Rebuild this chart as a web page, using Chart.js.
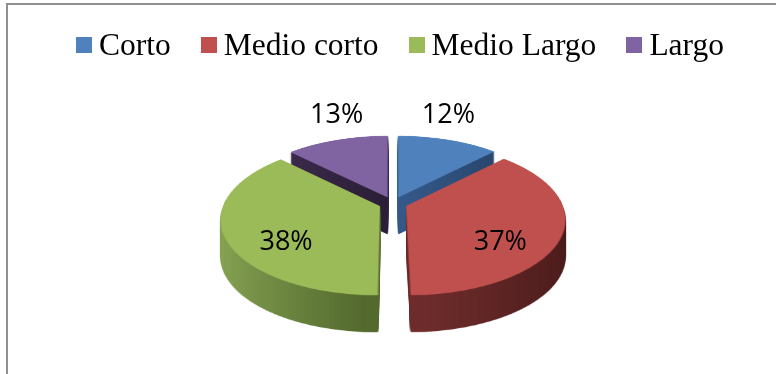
<!DOCTYPE html>
<html lang="es">
<head>
<meta charset="utf-8">
<title>Plazo</title>
<script src="https://cdn.jsdelivr.net/npm/chart.js@4.4.1/dist/chart.umd.min.js"></script>
<style>
  html, body { margin: 0; padding: 0; background: #fff; }
  #contenedor { position: relative; width: 776px; height: 374px; overflow: hidden; }
  #grafico { position: absolute; left: 0; top: 0; width: 776px; height: 374px; }
  #marco { position: absolute; left: 6px; top: 3px; width: 800px; height: 400px; border-top: 2px solid #8f8f8f; border-left: 2px solid #8f8f8f; }
  #leyenda { position: absolute; left: 76px; top: 29px; white-space: nowrap; font: 31.5px/31px "Liberation Serif", serif; color: #000; }
  #leyenda .item { display: inline-block; margin-right: 30px; }
  #leyenda .caja { display: inline-block; width: 16px; height: 16px; margin-right: 7px; vertical-align: 2px; }
</style>
</head>
<body>
<div id="contenedor">
  <div id="marco"></div>
  <div id="grafico"><canvas id="graficoPlazo"></canvas></div>
  <div id="leyenda"></div>
</div>
<script>
// Datos del gráfico
const categorias = ['Corto', 'Medio corto', 'Medio Largo', 'Largo'];
const valores = [12.4, 37.49, 37.51, 12.6];
const colores = ['#4f81bd', '#c0504d', '#9bbb59', '#8064a2'];
// color claro / oscuro del lateral de cada sector
const coloresLado = [
    ['#35598a', '#2a466b'],
    ['#6e2d2c', '#481a1a'],
    ['#8dab58', '#546a2f'],
    ['#3b2b4c', '#2d2039']
];

const RADIO = 152;
const DESPLAZAMIENTO = 56;   // separación de los sectores (opción offset)
const PROFUNDIDAD = 37;      // grosor en px
const K = 0.472;             // inclinación
const P = 951;               // distancia de la cámara, da la perspectiva
const MARGEN = 60;

// Leyenda en HTML
const leyenda = document.getElementById('leyenda');
categorias.forEach((cat, i) => {
    const item = document.createElement('span');
    item.className = 'item';
    const caja = document.createElement('span');
    caja.className = 'caja';
    caja.style.background = colores[i];
    item.appendChild(caja);
    item.appendChild(document.createTextNode(cat));
    leyenda.appendChild(item);
});

function mitad(arc) {
    return (arc.startAngle + arc.endAngle) / 2;
}

// ArcElement desplaza el sector offset/4 y agranda un poco el radio
function separacion() {
    return DESPLAZAMIENTO / 4;
}

function radioReal(arc) {
    const fix = 1 - Math.sin(Math.min(Math.PI, arc.circumference));
    return arc.outerRadius + separacion() * fix;
}

function extremosX(arc) {
    const shift = Math.cos(mitad(arc)) * separacion();
    let min = arc.x, max = arc.x;
    for (let t = 0; t <= 20; t++) {
        const a = arc.startAngle + (arc.endAngle - arc.startAngle) * t / 20;
        const x = arc.x + Math.cos(a) * radioReal(arc);
        min = Math.min(min, x);
        max = Math.max(max, x);
    }
    return [min + shift, max + shift];
}

// punto del plano (u hacia la derecha, v hacia delante) -> pantalla
function proyectarPunto(cx, cy, u, v) {
    const g = P / (P - v);
    return { x: cx + u * g, y: cy + K * v * g };
}

// dibuja los sectores vistos desde arriba en un lienzo aparte
function capaPlana(chart, colorDe) {
    const arcos = chart.getDatasetMeta(0).data;
    const lienzo = document.createElement('canvas');
    lienzo.width = chart.width;
    lienzo.height = chart.height + 2 * MARGEN;
    const c = lienzo.getContext('2d');
    c.translate(0, MARGEN);
    arcos.forEach((arc, i) => {
        const original = arc.options;
        arc.options = Object.assign({}, original, { backgroundColor: colorDe(c, arc, i), borderWidth: 0 });
        arc.draw(c);
        arc.options = original;
    });
    return lienzo;
}

// pasa la capa plana a perspectiva, fila a fila
function proyectarCapa(plano, chart, cx, cy) {
    const lienzo = document.createElement('canvas');
    lienzo.width = chart.width;
    lienzo.height = chart.height;
    const c = lienzo.getContext('2d');
    c.imageSmoothingQuality = 'high';
    const oy = cy + MARGEN;
    for (let y = 0; y < chart.height; y++) {
        const Y0 = y - cy, Y1 = y + 1 - cy;
        const v0 = Y0 * P / (K * P + Y0);
        const v1 = Y1 * P / (K * P + Y1);
        if (oy + v0 < 0 || oy + v1 > plano.height) continue;
        const g = P / (P - (v0 + v1) / 2);
        c.drawImage(plano, 0, oy + v0, plano.width, v1 - v0, cx - cx * g, y, plano.width * g, 1);
    }
    return lienzo;
}

// Plugin: pastel 3D (caras superiores + grosor)
const efecto3d = {
    id: 'efecto3d',
    beforeDatasetsDraw(chart) {
        const ctx = chart.ctx;
        const arcos = chart.getDatasetMeta(0).data;
        const cx = arcos[0].x, cy = arcos[0].y;

        const lados = proyectarCapa(capaPlana(chart, (c, arc, i) => {
            const [x0, x1] = extremosX(arc);
            const grad = c.createLinearGradient(x0, 0, x1, 0);
            grad.addColorStop(0, coloresLado[i][0]);
            grad.addColorStop(1, coloresLado[i][1]);
            return grad;
        }), chart, cx, cy);
        const caras = proyectarCapa(capaPlana(chart, (c, arc) => arc.options.backgroundColor), chart, cx, cy);

        for (let d = PROFUNDIDAD; d > 0; d--) {
            ctx.drawImage(lados, 0, d);
        }
        ctx.drawImage(caras, 0, 0);
        return false;
    }
};

// Plugin: porcentajes
const etiquetas = {
    id: 'etiquetas',
    afterDraw(chart) {
        const ctx = chart.ctx;
        const arcos = chart.getDatasetMeta(0).data;
        const total = valores.reduce((s, v) => s + v, 0);
        ctx.save();
        ctx.font = '27px "Open Sans"';
        ctx.fillStyle = '#000';
        ctx.textAlign = 'center';
        ctx.textBaseline = 'alphabetic';
        arcos.forEach((arc, i) => {
            const mid = mitad(arc);
            const pequeno = valores[i] / total < 0.2;
            // sectores pequeños: fuera, encima del borde; grandes: dentro
            const d = (pequeno ? radioReal(arc) : radioReal(arc) * 0.62) + separacion();
            const p = proyectarPunto(arc.x, arc.y, Math.cos(mid) * d, Math.sin(mid) * d);
            const y = pequeno ? p.y - 27 : p.y + PROFUNDIDAD / 2 - 3;
            ctx.fillText(Math.round(valores[i] / total * 100) + '%', p.x, y + 10);
        });
        ctx.restore();
    }
};

new Chart(document.getElementById('graficoPlazo'), {
    type: 'pie',
    data: {
        labels: categorias,
        datasets: [{
            data: valores,
            backgroundColor: colores,
            borderWidth: 0,
            offset: DESPLAZAMIENTO,
            radius: RADIO,
            clip: false
        }]
    },
    options: {
        responsive: true,
        maintainAspectRatio: false,
        animation: false,
        events: [],
        layout: { padding: { left: 10, right: 0, top: 33, bottom: 0 } },
        plugins: {
            legend: { display: false },
            tooltip: { enabled: false }
        }
    },
    plugins: [efecto3d, etiquetas]
});
</script>
</body>
</html>
